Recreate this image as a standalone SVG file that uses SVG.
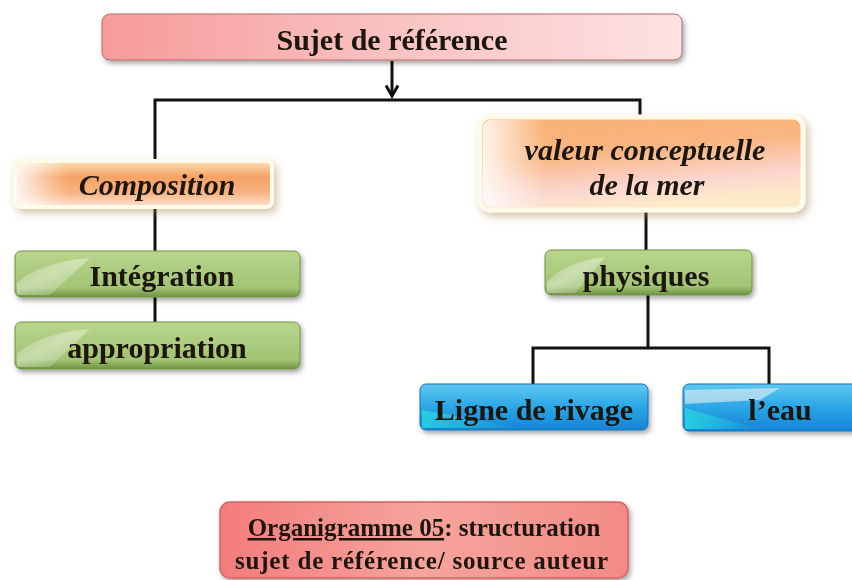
<svg xmlns="http://www.w3.org/2000/svg" width="852" height="580" viewBox="0 0 852 580">
  <defs>
    <style>
      .lbl { font-family: "Liberation Serif", "Times New Roman", serif; font-weight: bold; fill: #1a1410; text-anchor: middle; font-size: 30px; }
      .it { font-style: italic; }
      .cap { font-size: 25px; }
      .wire { fill: none; stroke: #111; stroke-width: 3; }
    </style>
    <filter id="shadow" x="-10%" y="-20%" width="120%" height="150%">
      <feGaussianBlur in="SourceAlpha" stdDeviation="2.5"/>
      <feOffset dx="2" dy="3" result="b"/>
      <feFlood flood-color="#000" flood-opacity="0.35"/>
      <feComposite in2="b" operator="in"/>
      <feMerge><feMergeNode/><feMergeNode in="SourceGraphic"/></feMerge>
    </filter>
    <filter id="glow" x="-10%" y="-20%" width="125%" height="160%">
      <feGaussianBlur in="SourceAlpha" stdDeviation="4"/>
      <feOffset dx="3" dy="4" result="b"/>
      <feFlood flood-color="#a07840" flood-opacity="0.45"/>
      <feComposite in2="b" operator="in"/>
      <feMerge><feMergeNode/><feMergeNode in="SourceGraphic"/></feMerge>
    </filter>
    <linearGradient id="gPink" x1="0" y1="0" x2="1" y2="0">
      <stop offset="0" stop-color="#f79a9a"/>
      <stop offset="0.5" stop-color="#f9c2c2"/>
      <stop offset="1" stop-color="#fde2e2"/>
    </linearGradient>
    <linearGradient id="gOrange" x1="0" y1="0" x2="0" y2="1">
      <stop offset="0" stop-color="#fde0b8"/>
      <stop offset="0.35" stop-color="#f6a264"/>
      <stop offset="0.7" stop-color="#f8b484"/>
      <stop offset="1" stop-color="#fde4d4"/>
    </linearGradient>
    <linearGradient id="gOrangeTall" x1="0" y1="0" x2="0.3" y2="1">
      <stop offset="0" stop-color="#f8b070"/>
      <stop offset="0.45" stop-color="#f9b682"/>
      <stop offset="0.8" stop-color="#fbd6d0"/>
      <stop offset="1" stop-color="#fde8c8"/>
    </linearGradient>
    <linearGradient id="gFadeL" x1="0" y1="0" x2="1" y2="0">
      <stop offset="0" stop-color="#fff" stop-opacity="0.85"/>
      <stop offset="0.2" stop-color="#fff" stop-opacity="0"/>
    </linearGradient>
    <linearGradient id="gGreen" x1="0" y1="0" x2="0" y2="1">
      <stop offset="0" stop-color="#b9d58c"/>
      <stop offset="0.8" stop-color="#a2c474"/>
      <stop offset="1" stop-color="#6f9442"/>
    </linearGradient>
    <linearGradient id="gShine" x1="0" y1="0" x2="1" y2="1">
      <stop offset="0" stop-color="#fff" stop-opacity="0"/>
      <stop offset="0.45" stop-color="#fff" stop-opacity="0.5"/>
      <stop offset="1" stop-color="#fff" stop-opacity="0"/>
    </linearGradient>
    <linearGradient id="gBlue" x1="0" y1="0" x2="0" y2="1">
      <stop offset="0" stop-color="#5fc8f0"/>
      <stop offset="0.5" stop-color="#2aa6e6"/>
      <stop offset="1" stop-color="#1684d6"/>
    </linearGradient>
    <linearGradient id="gCyan" x1="0" y1="0" x2="1" y2="0">
      <stop offset="0" stop-color="#28d0e0"/>
      <stop offset="1" stop-color="#28d0e0" stop-opacity="0"/>
    </linearGradient>
    <linearGradient id="gSalmon" x1="0" y1="0" x2="1" y2="0">
      <stop offset="0" stop-color="#f37c7c"/>
      <stop offset="0.5" stop-color="#f6a49c"/>
      <stop offset="1" stop-color="#f38a86"/>
    </linearGradient>
    <marker id="arrow" viewBox="0 0 10 10" refX="8" refY="5" markerWidth="5" markerHeight="5" orient="auto">
      <path d="M1,1 L8,5 L1,9" fill="none" stroke="#111" stroke-width="2"/>
    </marker>
  </defs>

  <rect width="852" height="580" fill="#ffffff"/>

  <!-- connectors -->
  <g id="connectors">
    <line class="wire" x1="392" y1="61" x2="392" y2="96" marker-end="url(#arrow)"/>
    <path class="wire" d="M155,161 V100 H640 V118"/>
    <line class="wire" x1="155" y1="207" x2="155" y2="252"/>
    <line class="wire" x1="155" y1="297" x2="155" y2="322"/>
    <line class="wire" x1="646" y1="210" x2="646" y2="250"/>
    <path class="wire" d="M648,295 V348"/>
    <path class="wire" d="M533,384 V348 H769 V384"/>
  </g>

  <!-- root -->
  <g id="sujet" filter="url(#shadow)">
    <rect x="102" y="14" width="580" height="46" rx="8" fill="url(#gPink)" stroke="#b86a6a" stroke-width="1"/>
    <text class="lbl" x="392" y="50">Sujet de référence</text>
  </g>

  <!-- left branch -->
  <g id="composition" filter="url(#glow)">
    <rect x="15" y="161" width="257" height="46" rx="6" fill="url(#gOrange)" stroke="#fffbea" stroke-width="4"/>
    <rect x="17" y="163" width="253" height="42" rx="5" fill="url(#gFadeL)"/>
    <text class="lbl it" x="157" y="195" font-size="28">Composition</text>
  </g>

  <g id="integration" filter="url(#shadow)">
    <rect x="15" y="251" width="285" height="46" rx="6" fill="url(#gGreen)" stroke="#6f9442" stroke-width="1"/>
    <path d="M17,283 Q40,262 90,258 L50,295 L17,295 Z" fill="url(#gShine)" opacity="0.8"/>
    <text class="lbl" x="162" y="286">Intégration</text>
  </g>

  <g id="appropriation" filter="url(#shadow)">
    <rect x="15" y="322" width="285" height="47" rx="6" fill="url(#gGreen)" stroke="#6f9442" stroke-width="1"/>
    <path d="M17,354 Q40,333 90,329 L50,367 L17,367 Z" fill="url(#gShine)" opacity="0.8"/>
    <text class="lbl" x="157" y="358">appropriation</text>
  </g>

  <!-- right branch -->
  <g id="valeur" filter="url(#glow)">
    <rect x="480" y="117" width="323" height="93" rx="10" fill="url(#gOrangeTall)" stroke="#fffbea" stroke-width="5"/>
    <rect x="483" y="120" width="317" height="87" rx="8" fill="url(#gFadeL)"/>
    <text class="lbl it" x="645" y="160">valeur conceptuelle</text>
    <text class="lbl it" x="647" y="195">de la mer</text>
  </g>

  <g id="physiques" filter="url(#shadow)">
    <rect x="545" y="250" width="207" height="45" rx="6" fill="url(#gGreen)" stroke="#6f9442" stroke-width="1"/>
    <path d="M547,282 Q565,262 605,257 L575,293 L547,293 Z" fill="url(#gShine)" opacity="0.8"/>
    <text class="lbl" x="646" y="286">physiques</text>
  </g>

  <g id="ligne" filter="url(#shadow)">
    <rect x="420" y="384" width="228" height="46" rx="6" fill="url(#gBlue)" stroke="#1570b8" stroke-width="1"/>
    <path d="M422,410 Q470,418 520,428 L422,428 Z" fill="url(#gCyan)" opacity="0.9"/>
    <text class="lbl" x="534" y="420">Ligne de rivage</text>
  </g>

  <g id="eau" filter="url(#shadow)">
    <rect x="683" y="384" width="175" height="47" rx="6" fill="url(#gBlue)" stroke="#1570b8" stroke-width="1"/>
    <path d="M685,404 Q720,402 760,400 L780,388 L685,390 Z" fill="#e8f0f4" opacity="0.6"/>
    <path d="M685,408 Q720,418 760,429 L685,429 Z" fill="url(#gCyan)" opacity="0.95"/>
    <text class="lbl" x="780" y="420">l’eau</text>
  </g>

  <!-- caption -->
  <g id="legende" filter="url(#shadow)">
    <rect x="220" y="502" width="408" height="76" rx="10" fill="url(#gSalmon)" stroke="#d86060" stroke-width="1.5"/>
    <text class="lbl cap" x="424" y="536"><tspan text-decoration="underline">Organigramme 05</tspan>: structuration</text>
    <text class="lbl cap" x="422" y="569" letter-spacing="0.8">sujet de référence/ source auteur</text>
  </g>
</svg>
